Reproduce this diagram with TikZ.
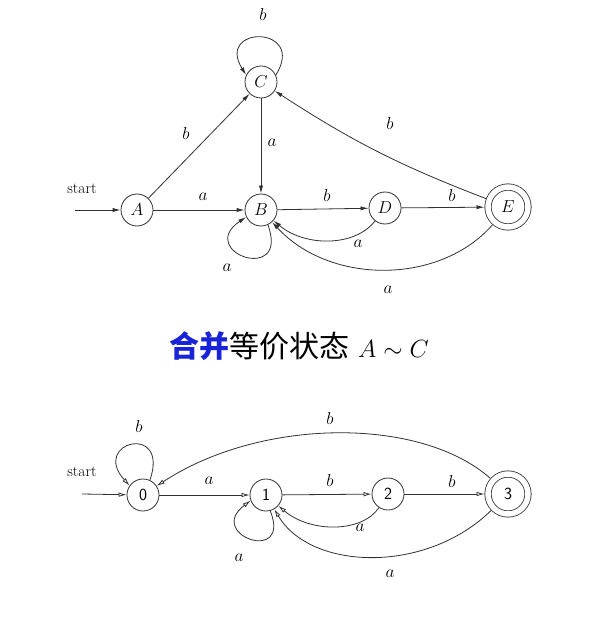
\documentclass[tikz,border=0pt]{standalone}
\usepackage{fontspec}
\newfontfamily\cjk{Noto Sans CJK SC}
\usetikzlibrary{arrows.meta}
\definecolor{lineC}{RGB}{50,50,50}
\definecolor{titleblue}{RGB}{25,35,215}
\begin{document}
\begin{tikzpicture}[x=1pt,y=-1pt,
  state/.style={circle,draw=lineC,line width=0.8pt,minimum size=32pt,inner sep=0pt,font=\fontsize{19}{19}\selectfont},
  accept/.style={state,double=white,double distance=5.5pt,minimum size=40pt,outer sep=3.5pt},
  lbl/.style={inner sep=0pt,font=\fontsize{17}{17}\selectfont},
  startlbl/.style={inner sep=0pt,font=\fontsize{15.5}{15.5}\selectfont},
  tr/.style={->,draw=lineC,line width=0.8pt}]
\fill[white] (0,0) rectangle (613,620);
\useasboundingbox (0,0) rectangle (613,620);

% ---------- top automaton ----------
\begin{scope}[>={Latex[length=8pt,width=4.2pt]}]
\node[state] (A) at (137,210) {$A$};
\node[state] (B) at (261,210) {$B$};
\node[state] (C) at (261,82) {$C$};
\node[state] (D) at (385,208) {$D$};
\node[accept] (E) at (508,207) {$E$};
\coordinate (s1) at (75,210);
\node[startlbl] (st1) at (82,189) {start};
\draw[tr] (s1) -- (A);
\draw[tr] (A) -- (C);
\draw[tr] (A) -- (B);
\draw[tr] (C) -- (B);
\draw[tr] (B) -- (D);
\draw[tr] (D) -- (E);
\draw[tr] (E) to[bend left=6] (C);
\draw[tr] (E) .. controls (440,285) and (330,285) .. (B);
\draw[tr] (D) .. controls (355,247) and (305,247) .. (B);
\draw[tr] (C.25) .. controls (307,25) and (215,25) .. (C.155);
\draw[tr] (B.-65) .. controls (290,285) and (195,252) .. (B.205);
\node[lbl] (l1) at (263,15) {$b$};
\node[lbl] (l2) at (186,134) {$b$};
\node[lbl] (l3) at (272,143) {$a$};
\node[lbl] (l4) at (203,197) {$a$};
\node[lbl] (l5) at (327,196) {$b$};
\node[lbl] (l6) at (452,196) {$b$};
\node[lbl] (l7) at (390,124) {$b$};
\node[lbl] (l8) at (358,244) {$a$};
\node[lbl] (l9) at (388,290) {$a$};
\node[lbl] (l10) at (227,268) {$a$};
\end{scope}

% ---------- title ----------
\node[inner sep=0pt,font=\fontsize{30}{30}\selectfont] (title) at (299,346)
  {{\cjk\bfseries\color{titleblue}合并}{\cjk 等价状态} $A\sim C$};

% ---------- bottom automaton ----------
\begin{scope}[>={Latex[open,length=8pt,width=4.5pt]},state/.append style={font=\fontsize{17}{17}\selectfont\sffamily}]
\node[state] (q0) at (143,495) {0};
\node[state] (q1) at (266,495) {1};
\node[state] (q2) at (388,494) {2};
\node[accept] (q3) at (508,494) {3};
\coordinate (s2) at (82,494);
\node[startlbl] (st2) at (82,472) {start};
\draw[tr] (s2) -- (q0);
\draw[tr] (q0) -- (q1);
\draw[tr] (q1) -- (q2);
\draw[tr] (q2) -- (q3);
\draw[tr] (q3) .. controls (420,416) and (260,418) .. (q0);
\draw[tr] (q2) .. controls (362,533) and (310,533) .. (q1);
\draw[tr] (q3) .. controls (425,575) and (310,570) .. (q1);
\draw[tr] (q0.65) .. controls (170,422) and (90,442) .. (q0.145);
\draw[tr] (q1.-75) .. controls (292,565) and (205,535) .. (q1.200);
\node[lbl] (m1) at (139,426) {$b$};
\node[lbl] (m2) at (330,418) {$b$};
\node[lbl] (m3) at (209,481) {$a$};
\node[lbl] (m4) at (239,558) {$a$};
\node[lbl] (m5) at (330,480) {$b$};
\node[lbl] (m6) at (360,528) {$a$};
\node[lbl] (m7) at (452,481) {$b$};
\node[lbl] (m8) at (390,574) {$a$};
\end{scope}
\end{tikzpicture}
\end{document}
